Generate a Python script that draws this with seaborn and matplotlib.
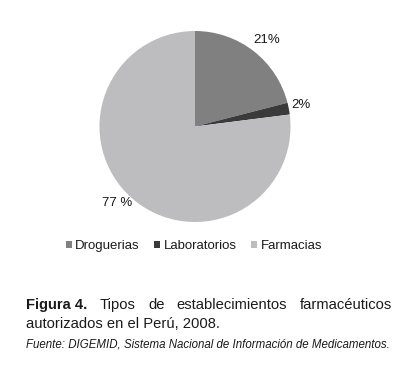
import numpy as np
import seaborn as sns
import matplotlib.pyplot as plt
from matplotlib.patches import Patch

categories = ["Droguerias", "Laboratorios", "Farmacias"]
shares = [21, 2, 77]
pct_labels = ["21%", "2%", "77 %"]
colors = ["#808080", "#3a3a3a", "#bdbdbf"]

sns.set_theme(style="white")
plt.rcParams["font.family"] = ["Liberation Sans", "DejaVu Sans"]

fig = plt.figure(figsize=(4.15, 3.66), dpi=100)
cx, cy, r = 195, 126.5, 95.5
W, H = 415, 366
ax = fig.add_axes([(cx - r) / W, 1 - (cy + r) / H, 2 * r / W, 2 * r / H])

wedges, _ = ax.pie(shares, colors=colors, startangle=90, counterclock=False,
                   radius=1, wedgeprops=dict(linewidth=0))
ax.set_xlim(-1, 1)
ax.set_ylim(-1, 1)
ax.set_aspect("auto")
ax.axis("off")

# percentage labels placed outside each wedge (distance, angle tweak)
label_pos = [(1.175, -1.8), (1.13, 0.7), (1.14, -4.0)]
for w, lab, (dist, tweak) in zip(wedges, pct_labels, label_pos):
    ang = np.deg2rad((w.theta1 + w.theta2) / 2 + tweak)
    ax.text(dist * np.cos(ang), dist * np.sin(ang), lab, ha="center",
            va="center", fontsize=9.5, color="#1a1a1a", clip_on=False)

handles = [Patch(facecolor=c, edgecolor="none") for c in colors]
fig.legend(handles, categories, loc="center", bbox_to_anchor=(194 / W, 1 - 246 / H),
           ncol=3, frameon=False, fontsize=9.5, handlelength=0.45, handleheight=0.45,
           handletextpad=0.25, columnspacing=1.1, borderaxespad=0,
           labelcolor="#1a1a1a")

# justified caption first line
fig.canvas.draw()
renderer = fig.canvas.get_renderer()
x0, x1 = 26 / W, 392 / W
y_line1 = 1 - 309.3 / H
words = [("Figura 4.", "bold"), ("Tipos", "normal"), ("de", "normal"),
         ("establecimientos", "normal"), ("farmacéuticos", "normal")]
texts = [fig.text(0, y_line1, w, fontsize=10.6, fontweight=fw, va="baseline",
                  color="#1a1a1a") for w, fw in words]
widths = [t.get_window_extent(renderer).width / fig.bbox.width for t in texts]
gap = (x1 - x0 - sum(widths)) / (len(words) - 1)
x = x0
for t, wd in zip(texts, widths):
    t.set_x(x)
    x += wd + gap

fig.text(x0, 1 - 327.7 / H, "autorizados en el Perú, 2008.", fontsize=10.6,
         va="baseline", color="#1a1a1a")
fig.text(x0, 1 - 347.3 / H,
         "Fuente: DIGEMID, Sistema Nacional de Información de Medicamentos.",
         fontsize=8.3, style="italic", va="baseline", color="#1a1a1a")

fig.savefig("out.png", dpi=100)
